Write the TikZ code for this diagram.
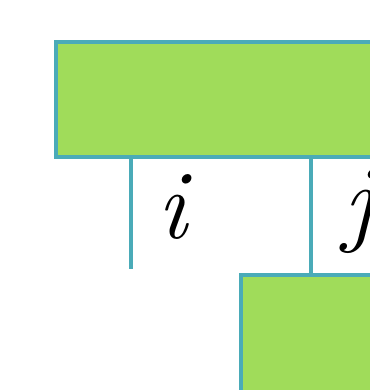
\documentclass[tikz,border=0pt]{standalone}
\usepackage{fontspec}
\usepackage{tikz}
\usetikzlibrary{positioning, calc}
\definecolor{boxgreen}{HTML}{A0DC5A}
\definecolor{edgeteal}{HTML}{4AABB8}
\tikzset{
  blk/.style  = {draw=edgeteal, fill=boxgreen, rectangle, line width=3.1pt,
                 anchor=north west, inner sep=0pt},
  leg/.style  = {draw=edgeteal, line width=3.1pt},
  idx/.style  = {font=\fontsize{70}{76}\selectfont\itshape, inner sep=0pt},
}
\begin{document}
\begin{tikzpicture}[x=0.025cm, y=-0.025cm]
  \useasboundingbox (0,0) rectangle (370,390);
  \clip (0,0) rectangle (370,390);
  % blocks
  \node[blk, minimum width=9cm, minimum height=2.875cm] (upper) at (54,40) {};
  \node[blk, minimum width=5cm, minimum height=5cm] (lower) at (239,273) {};
  % legs
  \coordinate (ibot) at (131,269);
  \coordinate (itop) at (ibot |- upper.south);
  \coordinate (jtop) at (311,155);
  \coordinate (jbot) at (jtop |- lower.north);
  \draw[leg] (itop) -- (ibot);
  \draw[leg] (jtop) -- (jbot);
  % labels
  \node[idx] (ilab) at (172,207) {i};
  \node[idx] (jlab) at (358,212) {j};
\end{tikzpicture}
\end{document}
